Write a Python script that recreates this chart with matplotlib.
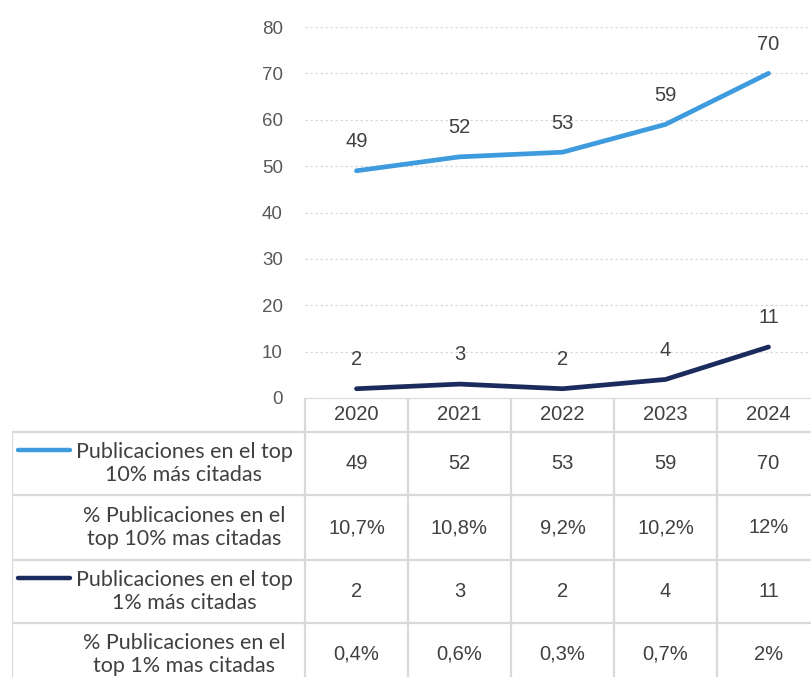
import matplotlib.pyplot as plt

# data
years = ['2020', '2021', '2022', '2023', '2024']
top10 = [49, 52, 53, 59, 70]
top10_pct = ['10,7%', '10,8%', '9,2%', '10,2%', '12%']
top1 = [2, 3, 2, 4, 11]
top1_pct = ['0,4%', '0,6%', '0,3%', '0,7%', '2%']
row_labels = ['Publicaciones en el top\n10% más citadas',
              '% Publicaciones en el\ntop 10% mas citadas',
              'Publicaciones en el top\n1% más citadas',
              '% Publicaciones en el\ntop 1% mas citadas']

light_blue = '#3E9BDD'
navy = '#1B2B5E'
grid_col = '#D9D9D9'
txt_col = '#404040'

W, H = 812, 677
fig = plt.figure(figsize=(W / 100, H / 100), dpi=100)

# main chart: axes spans 305..820 px (right end cropped), 0 at y=398, 80 at y=27
ax = fig.add_axes([305 / W, 1 - 398 / H, 515 / W, (398 - 27) / H])
xs = [i + 0.5 for i in range(len(years))]
ax.plot(xs, top10, color=light_blue, lw=3.4, solid_capstyle='round', zorder=3)
ax.plot(xs, top1, color=navy, lw=3.4, solid_capstyle='round', zorder=3)
for x, v in zip(xs, top10):
    ax.annotate(str(v), (x, v), xytext=(0, 21), textcoords='offset points',
                ha='center', va='center', fontsize=14.5, color=txt_col,
                family='Liberation Sans')
for x, v in zip(xs, top1):
    ax.annotate(str(v), (x, v), xytext=(0, 21), textcoords='offset points',
                ha='center', va='center', fontsize=14.5, color=txt_col,
                family='Liberation Sans')

ax.set_xlim(0, 5)
ax.set_ylim(0, 80)
ax.set_yticks(range(0, 81, 10))
ax.set_xticks([])
ax.tick_params(axis='y', length=0, pad=16, labelsize=13.5, labelcolor='#595959')
for lab in ax.get_yticklabels():
    lab.set_family('Liberation Sans')
ax.grid(axis='y', color=grid_col, lw=0.9, ls=(0, (2, 2)))
ax.set_axisbelow(True)
for s in ax.spines.values():
    s.set_visible(False)
ax.patch.set_alpha(0)

# data table below, in category units horizontally, px rows vertically
left_x = (12 - 305) / 103
tab = fig.add_axes([12 / W, 1 - 686 / H, (820 - 12) / W, 288 / H])
tab.set_xlim(left_x, 5)
tab.set_ylim(288, 0)
tab.axis('off')

bounds = [0, 34, 97, 162, 225, 288]
kw = dict(color=grid_col, lw=1.6, solid_capstyle='butt')
tab.plot([0, 5], [0, 0], **kw)
for b in bounds[1:-1]:
    tab.plot([left_x, 5], [b, b], **kw)
for i in range(6):
    tab.plot([i, i], [0, 288], **kw)
tab.plot([left_x, left_x], [34, 288], **kw)

for x, y in zip(xs, years):
    tab.text(x, 17, y, ha='center', va='center', fontsize=14.5, color=txt_col,
             family='Liberation Sans')

rows = [[str(v) for v in top10], top10_pct, [str(v) for v in top1], top1_pct]
lab_x = (184 - 305) / 103
for r, (vals, lab) in enumerate(zip(rows, row_labels)):
    yc = (bounds[r + 1] + bounds[r + 2]) / 2
    for x, v in zip(xs, vals):
        tab.text(x, yc, v, ha='center', va='center', fontsize=14.5,
                 color=txt_col, family='Liberation Sans')
    tab.text(lab_x, yc, lab, ha='center', va='center', fontsize=15.5,
             color=txt_col, family='Lato', linespacing=1.2)

# legend keys in the label column
for r, col in [(0, light_blue), (2, navy)]:
    yk = bounds[r + 1] + 18
    tab.plot([(18 - 305) / 103, (70 - 305) / 103], [yk, yk], color=col, lw=3.2,
             solid_capstyle='round')

fig.savefig('out.png', dpi=100)
